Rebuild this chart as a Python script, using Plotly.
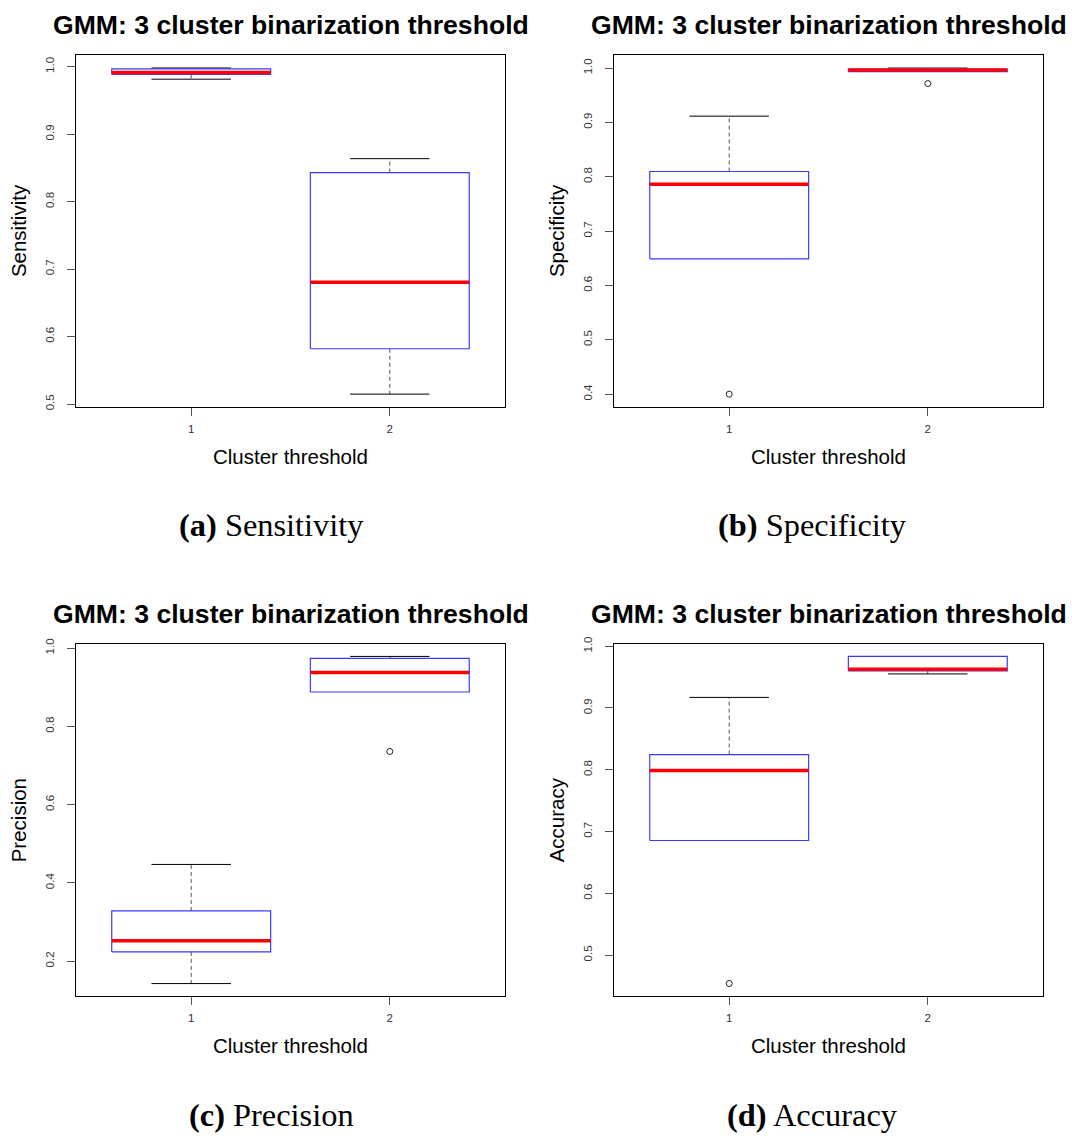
import plotly.graph_objects as go

# ---------------- data ----------------
groups = [1, 2]
metrics = ["Sensitivity", "Specificity", "Precision", "Accuracy"]
captions = ["(a)", "(b)", "(c)", "(d)"]

# five-number summaries per group: [lower whisker, Q1, median, Q3, upper whisker]
sens_stats = [[0.9814, 0.9883, 0.9912, 0.9966, 0.9980],
              [0.5147, 0.5819, 0.6804, 0.8430, 0.8636]]
spec_stats = [[0.6490, 0.6490, 0.7860, 0.8097, 0.9115],
              [0.9933, 0.9933, 0.9964, 0.9980, 1.0000]]
prec_stats = [[0.1427, 0.2236, 0.2523, 0.3283, 0.4472],
              [0.8879, 0.8879, 0.9376, 0.9739, 0.9789]]
acc_stats = [[0.6856, 0.6856, 0.7989, 0.8246, 0.9171],
             [0.9551, 0.9599, 0.9626, 0.9834, 0.9834]]

# outliers per group
sens_out = [[], []]
spec_out = [[0.400], [0.9715]]
prec_out = [[], [0.7359]]
acc_out = [[0.4541], []]

y_ranges = [[0.4960, 1.0165], [0.3769, 1.0231], [0.1098, 1.0101], [0.4332, 1.0032]]
y_dticks = [0.1, 0.1, 0.2, 0.1]
title_text = "GMM: 3 cluster binarization threshold"
x_title = "Cluster threshold"

all_stats = [sens_stats, spec_stats, prec_stats, acc_stats]
all_out = [sens_out, spec_out, prec_out, acc_out]

# ---------------- layout geometry (pixels) ----------------
W, H = 1072, 1136
col_px = [(76, 505), (614, 1043)]
row_px = [(48, 403), (643, 999)]
BOX_W = 0.8
STAPLE_W = 0.4

fig = go.Figure()
layout = dict(width=W, height=H, margin=dict(l=0, r=0, t=0, b=0),
              paper_bgcolor="white", plot_bgcolor="white", showlegend=False)

tickfont = dict(family="Liberation Sans", size=11.5, color="#333")
ann = []
for k in range(4):
    r, c = divmod(k, 2)
    ax = "" if k == 0 else str(k + 1)
    xa, ya = "x" + ax, "y" + ax
    x0, x1 = col_px[c]
    y0, y1 = row_px[r]
    layout["xaxis" + ax] = dict(
        domain=[x0 / W, x1 / W], range=[0.42, 2.58], anchor=ya,
        tickvals=groups, ticktext=[str(g) for g in groups],
        ticks="outside", ticklen=8, tickcolor="#555", tickwidth=1,
        ticklabelstandoff=3, tickfont=tickfont,
        showline=True, linecolor="black", linewidth=1, mirror=True,
        showgrid=False, zeroline=False, fixedrange=True)
    layout["yaxis" + ax] = dict(
        domain=[1 - y1 / H, 1 - y0 / H], range=y_ranges[k], anchor=xa,
        dtick=y_dticks[k], tick0=0, tickformat=".1f", tickangle=-90,
        ticks="outside", ticklen=8, tickcolor="#555", tickwidth=1,
        ticklabelstandoff=8, tickfont=tickfont,
        showline=True, linecolor="black", linewidth=1, mirror=True,
        showgrid=False, zeroline=False, fixedrange=True)

    for gi, g in enumerate(groups):
        lo, q1, med, q3, hi = all_stats[k][gi]
        # whiskers (dashed)
        fig.add_trace(go.Scatter(x=[g, g, None, g, g], y=[q3, hi, None, q1, lo],
                                 mode="lines", xaxis=xa, yaxis=ya,
                                 line=dict(color="#555", width=1, dash="4px,3px"),
                                 hoverinfo="skip"))
        # staples (only where the whisker extends beyond the box)
        sx, sy = [], []
        for v, edge in ((hi, q3), (lo, q1)):
            if v != edge:
                sx += [g - STAPLE_W / 2, g + STAPLE_W / 2, None]
                sy += [v, v, None]
        if sx:
            fig.add_trace(go.Scatter(x=sx, y=sy, mode="lines", xaxis=xa, yaxis=ya,
                                     line=dict(color="black", width=1), hoverinfo="skip"))
        # box
        fig.add_trace(go.Scatter(x=[g - BOX_W / 2, g + BOX_W / 2, g + BOX_W / 2,
                                    g - BOX_W / 2, g - BOX_W / 2],
                                 y=[q1, q1, q3, q3, q1], mode="lines",
                                 xaxis=xa, yaxis=ya,
                                 line=dict(color="#3a3aff", width=1.2), hoverinfo="skip"))
        # median
        fig.add_trace(go.Scatter(x=[g - BOX_W / 2, g + BOX_W / 2], y=[med, med],
                                 mode="lines", xaxis=xa, yaxis=ya,
                                 line=dict(color="red", width=3.5), hoverinfo="skip"))
        # outliers
        if all_out[k][gi]:
            fig.add_trace(go.Scatter(x=[g] * len(all_out[k][gi]), y=all_out[k][gi],
                                     mode="markers", xaxis=xa, yaxis=ya,
                                     marker=dict(symbol="circle-open", size=6,
                                                 color="#222", line=dict(width=1)),
                                     hoverinfo="skip"))

    xc = (x0 + x1) / 2
    # panel title
    ann.append(dict(text="<b>" + title_text + "</b>", x=xc / W, y=1 - (y0 - 31) / H,
                    xref="paper", yref="paper", showarrow=False,
                    xanchor="center", yanchor="middle",
                    font=dict(family="Liberation Sans", size=26.6, color="black")))
    # x axis title
    ann.append(dict(text=x_title, x=xc / W, y=1 - (y1 + 50) / H,
                    xref="paper", yref="paper", showarrow=False,
                    xanchor="center", yanchor="middle",
                    font=dict(family="Liberation Sans", size=20.5, color="black")))
    # y axis title
    ann.append(dict(text=metrics[k], x=(x0 - 58) / W, y=1 - ((y0 + y1) / 2) / H,
                    xref="paper", yref="paper", showarrow=False, textangle=-90,
                    xanchor="center", yanchor="middle",
                    font=dict(family="Liberation Sans", size=20.5, color="black")))
    # caption
    ann.append(dict(text="<b>" + captions[k] + "</b> " + metrics[k],
                    x=(271 + 541 * c) / W, y=1 - (y1 + 120) / H,
                    xref="paper", yref="paper", showarrow=False,
                    xanchor="center", yanchor="middle",
                    font=dict(family="Liberation Serif", size=32.4, color="black")))

layout["annotations"] = ann
fig.update_layout(**layout)
fig.write_html("out.html", config={"displayModeBar": False},
               post_script="document.body.style.margin='0';document.body.style.padding='0';")
